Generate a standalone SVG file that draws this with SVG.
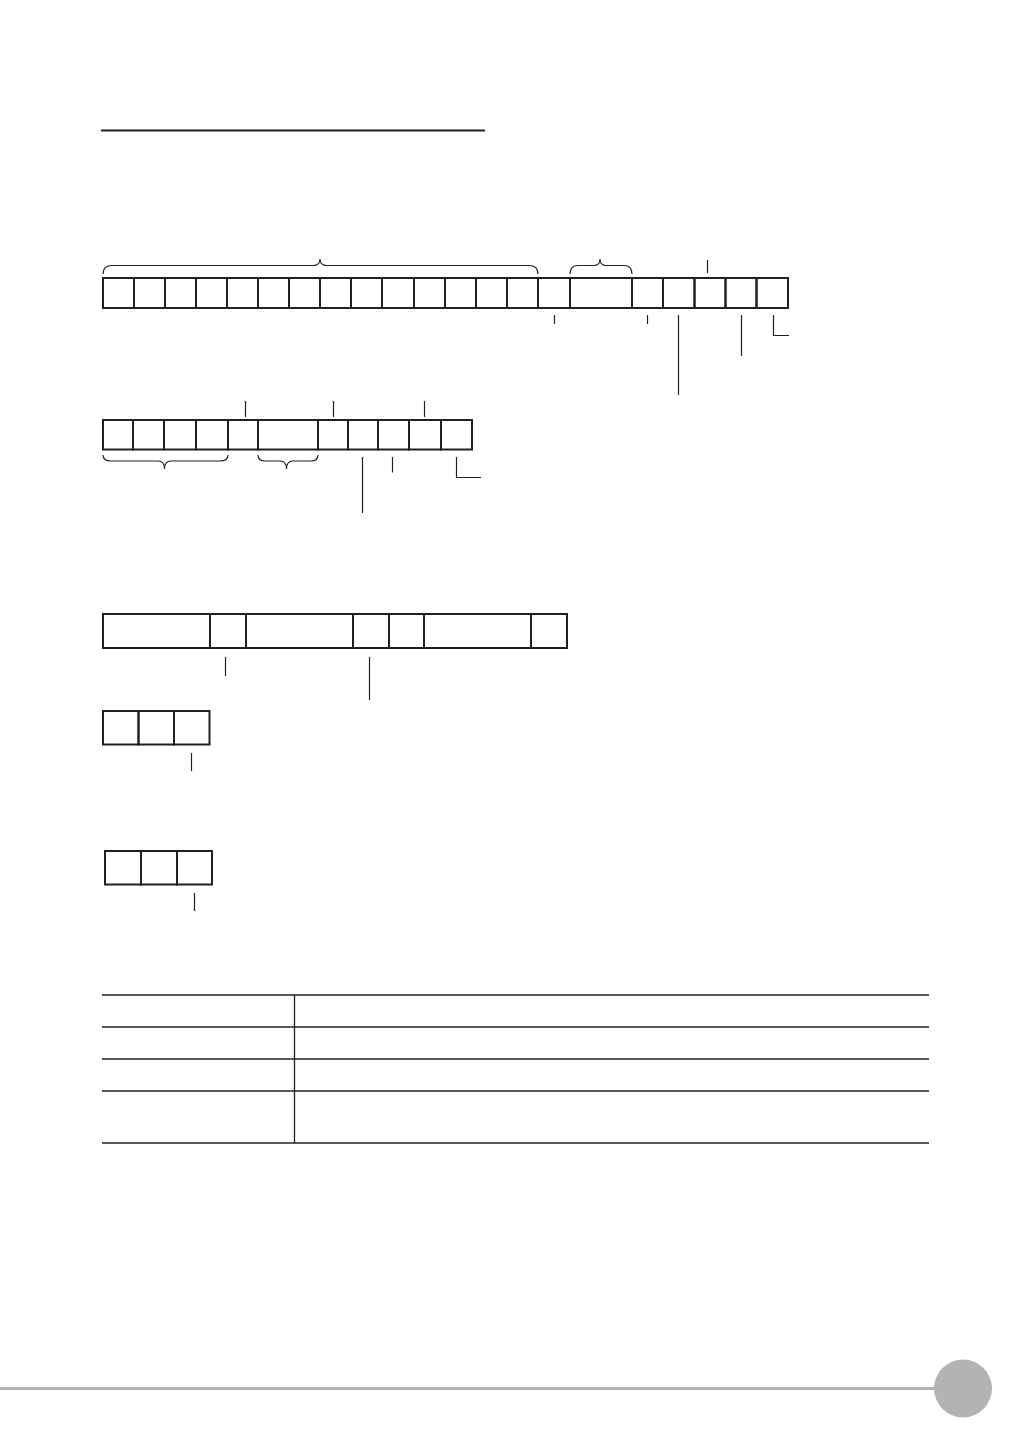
<svg xmlns="http://www.w3.org/2000/svg" width="1032" height="1456" viewBox="0 0 1032 1456">
<style>
.cell{fill:none;stroke:#231f20;stroke-width:2}
.tick{fill:none;stroke:#231f20;stroke-width:1.2}
.brace{fill:none;stroke:#231f20;stroke-width:1.2}
.rule{stroke:#231f20;stroke-width:1.3;fill:none}
</style>
<rect width="1032" height="1456" fill="#ffffff"/>
<line x1="101" y1="130.5" x2="485" y2="130.5" stroke="#231f20" stroke-width="2"/>

<g id="row1">
<rect class="cell" x="103" y="278" width="31" height="30"/>
<rect class="cell" x="134" y="278" width="31" height="30"/>
<rect class="cell" x="165" y="278" width="31" height="30"/>
<rect class="cell" x="196" y="278" width="31" height="30"/>
<rect class="cell" x="227" y="278" width="31" height="30"/>
<rect class="cell" x="258" y="278" width="31" height="30"/>
<rect class="cell" x="289" y="278" width="31" height="30"/>
<rect class="cell" x="320" y="278" width="31" height="30"/>
<rect class="cell" x="351" y="278" width="31" height="30"/>
<rect class="cell" x="382" y="278" width="32" height="30"/>
<rect class="cell" x="414" y="278" width="31" height="30"/>
<rect class="cell" x="445" y="278" width="31" height="30"/>
<rect class="cell" x="476" y="278" width="31" height="30"/>
<rect class="cell" x="507" y="278" width="31" height="30"/>
<rect class="cell" x="538" y="278" width="32" height="30"/>
<rect class="cell" x="570" y="278" width="62" height="30"/>
<rect class="cell" x="632" y="278" width="31" height="30"/>
<rect class="cell" x="663" y="278" width="31.5" height="30"/>
<rect class="cell" x="694.5" y="278" width="31" height="30"/>
<rect class="cell" x="725.5" y="278" width="31" height="30"/>
<rect class="cell" x="756.5" y="278" width="31.5" height="30"/>
</g>

<g id="row2">
<rect class="cell" x="103" y="420" width="30" height="29.5"/>
<rect class="cell" x="133" y="420" width="31" height="29.5"/>
<rect class="cell" x="164" y="420" width="32" height="29.5"/>
<rect class="cell" x="196" y="420" width="32" height="29.5"/>
<rect class="cell" x="228" y="420" width="30" height="29.5"/>
<rect class="cell" x="258" y="420" width="60" height="29.5"/>
<rect class="cell" x="318" y="420" width="30" height="29.5"/>
<rect class="cell" x="348" y="420" width="30" height="29.5"/>
<rect class="cell" x="378" y="420" width="31" height="29.5"/>
<rect class="cell" x="409" y="420" width="32" height="29.5"/>
<rect class="cell" x="441" y="420" width="31" height="29.5"/>
</g>

<g id="row3">
<rect class="cell" x="103" y="614" width="107" height="34"/>
<rect class="cell" x="210" y="614" width="36" height="34"/>
<rect class="cell" x="246" y="614" width="107" height="34"/>
<rect class="cell" x="353" y="614" width="36" height="34"/>
<rect class="cell" x="389" y="614" width="35" height="34"/>
<rect class="cell" x="424" y="614" width="107" height="34"/>
<rect class="cell" x="531" y="614" width="36" height="34"/>
</g>

<g id="row4">
<rect class="cell" x="103" y="711" width="35.5" height="33.5"/>
<rect class="cell" x="138.5" y="711" width="35.5" height="33.5"/>
<rect class="cell" x="174" y="711" width="35.5" height="33.5"/>
</g>

<g id="row5">
<rect class="cell" x="105" y="851" width="36" height="33.5"/>
<rect class="cell" x="141" y="851" width="36" height="33.5"/>
<rect class="cell" x="177" y="851" width="35" height="33.5"/>
</g>

<g id="connectors">
<path class="brace" d="M103,274 Q103,265.5 112,265.5 L313,265.5 Q320,265.5 320,259 Q320,265.5 327,265.5 L529,265.5 Q538,265.5 538,274"/>
<path class="brace" d="M570,274 Q570,265.5 578,265.5 L594,265.5 Q600,265.5 600,259 Q600,265.5 606,265.5 L624,265.5 Q632,265.5 632,274"/>
<line class="tick" x1="707.5" y1="260" x2="707.5" y2="273"/>
<line class="tick" x1="554.5" y1="315" x2="554.5" y2="324"/>
<line class="tick" x1="647.5" y1="315" x2="647.5" y2="324"/>
<line class="tick" x1="678.5" y1="315" x2="678.5" y2="395"/>
<line class="tick" x1="741.5" y1="315" x2="741.5" y2="356"/>
<path class="tick" d="M773.5,315 V335.5 H789"/>

<line class="tick" x1="245.5" y1="401" x2="245.5" y2="417"/>
<line class="tick" x1="333.5" y1="401" x2="333.5" y2="417"/>
<line class="tick" x1="424.5" y1="401" x2="424.5" y2="417"/>
<path class="brace" d="M103,455 Q103,461 111,461 L158,461 Q164.5,461 164.5,469 Q164.5,461 171,461 L220,461 Q228,461 228,455"/>
<path class="brace" d="M258,455 Q258,461 265,461 L280,461 Q286.5,461 286.5,469 Q286.5,461 293,461 L311,461 Q318,461 318,455"/>
<line class="tick" x1="362.5" y1="457" x2="362.5" y2="513"/>
<line class="tick" x1="392.5" y1="457" x2="392.5" y2="472.5"/>
<path class="tick" d="M456.5,457 V477.5 H481"/>

<line class="tick" x1="225.5" y1="657" x2="225.5" y2="676"/>
<line class="tick" x1="369.5" y1="657" x2="369.5" y2="700"/>
<line class="tick" x1="191.5" y1="753" x2="191.5" y2="771"/>
<line class="tick" x1="194.5" y1="893" x2="194.5" y2="911"/>
</g>

<g id="table">
<line class="rule" x1="102" y1="995" x2="929" y2="995"/>
<line class="rule" x1="102" y1="1027" x2="929" y2="1027"/>
<line class="rule" x1="102" y1="1059" x2="929" y2="1059"/>
<line class="rule" x1="102" y1="1091" x2="929" y2="1091"/>
<line class="rule" x1="102" y1="1143" x2="929" y2="1143"/>
<line class="rule" x1="294.5" y1="995" x2="294.5" y2="1143"/>
</g>

<g id="footer">
<line x1="0" y1="1388.5" x2="940" y2="1388.5" stroke="#b3b3b3" stroke-width="3"/>
<circle cx="963" cy="1388.5" r="29" fill="#b3b3b3"/>
</g>
</svg>
